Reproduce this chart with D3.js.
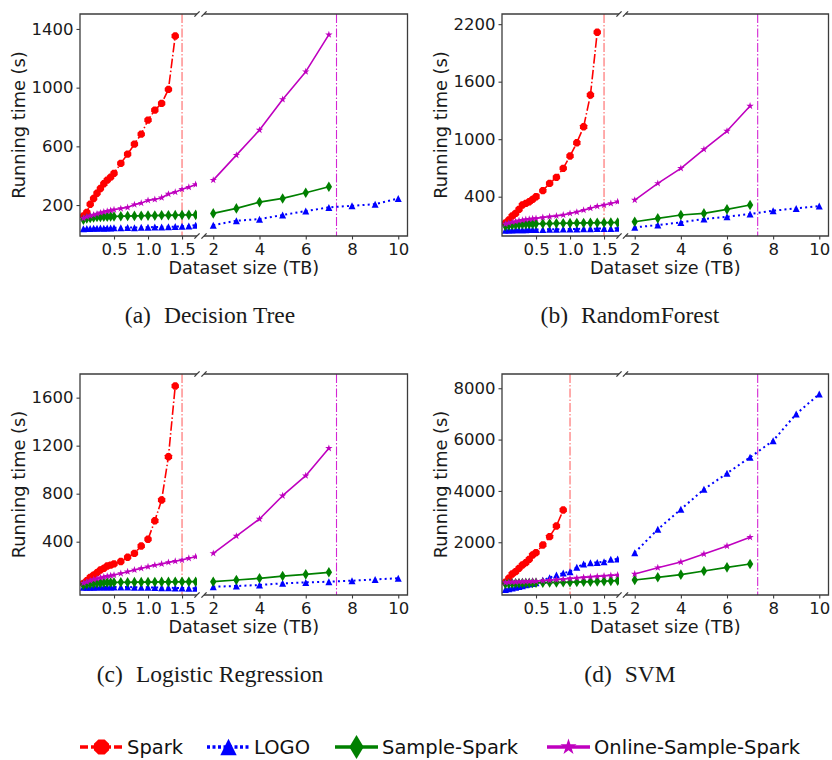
<!DOCTYPE html>
<html><head><meta charset="utf-8">
<script src="https://cdn.jsdelivr.net/npm/d3@7"></script>
<style>
body{margin:0;background:#fff}
svg{display:block}
text{font-family:"DejaVu Sans",sans-serif}
text.caption{font-family:"Liberation Serif",serif}
</style>
</head><body>
<svg id="chart" width="832" height="760"></svg>
<script>
// ---------------- DATA ----------------
const seriesNames = ["Spark", "LOGO", "Sample-Spark", "Online-Sample-Spark"];
const xLeft = [0.05,0.1,0.15,0.2,0.25,0.3,0.35,0.4,0.45,0.5,0.6,0.7,0.8,0.9,1.0,1.1,1.2,1.3,1.4,1.5,1.6,1.7];
const xSpark = [0.05,0.1,0.15,0.2,0.25,0.3,0.35,0.4,0.45,0.5,0.6,0.7,0.8,0.9,1.0,1.1,1.2,1.3,1.4];
const xSparkSvm = [0.05,0.1,0.15,0.2,0.25,0.3,0.35,0.4,0.45,0.5,0.6,0.7,0.8,0.9];
const xRight = [2,3,4,5,6,7];
const xRightLogo = [2,3,4,5,6,7,8,9,10];
const xLeftDomain = [0, 1.72];
const xRightDomain = [1.6, 10.4];
const xLeftTicks = [0.5, 1.0, 1.5];
const xRightTicks = [2, 4, 6, 8, 10];

// (a) Decision Tree
const dtSpark   = [125,150,205,245,280,313,345,370,390,416,484,547,615,683,779,847,893,988,1352];
const dtLogoL   = [38,40,40,42,41,43,42,44,43,45,46,47,46,48,49,50,51,52,53,55,58,63];
const dtSampleL = [100,108,112,115,118,118,120,120,122,122,124,125,126,127,128,128,130,130,131,132,133,133];
const dtOnlineL = [110,120,127,133,140,147,153,158,163,168,176,184,203,213,232,238,250,275,288,308,322,340];
const dtLogoR   = [63,93,104,132,159,184,195,206,245];
const dtSampleR = [143,177,220,245,284,325];
const dtOnlineR = [370,540,711,920,1109,1361];
const dtYDomain = [-11, 1502];
const dtYTicks  = [200, 600, 1000, 1400];

// (b) RandomForest
const rfSpark   = [125,157,198,226,268,313,330,348,372,400,463,539,602,696,824,963,1130,1461,2115];
const rfLogoL   = [50,52,52,54,55,55,56,57,57,58,59,60,61,62,63,64,65,66,67,68,69,70];
const rfSampleL = [95,100,105,108,110,112,114,115,116,117,119,120,122,123,124,125,126,127,128,129,130,131];
const rfOnlineL = [115,125,135,142,150,155,162,166,170,174,183,192,200,210,226,240,260,280,300,313,330,348];
const rfLogoR   = [80,104,132,167,191,219,254,278,303];
const rfSampleR = [139,174,209,226,268,313];
const rfOnlineR = [365,539,696,894,1085,1346];
const rfYDomain = [-10, 2306];
const rfYTicks  = [400, 1000, 1600, 2200];

// (c) Logistic Regression
const lrSpark   = [53,75,103,122,142,164,178,197,205,215,235,270,303,364,420,575,747,1108,1697];
const lrLogoL   = [20,20,21,21,22,22,22,23,23,23,22,22,21,21,20,18,17,16,15,14,13,12];
const lrSampleL = [40,45,50,53,55,57,58,60,60,61,62,62,63,63,64,64,65,65,66,66,67,67];
const lrOnlineL = [55,65,75,85,92,100,106,112,117,122,135,150,165,178,192,205,215,228,238,247,262,275];
const lrLogoR   = [25,31,39,53,61,67,75,86,95];
const lrSampleR = [67,81,95,114,128,145];
const lrOnlineR = [303,447,589,783,950,1178];
const lrYDomain = [-44, 1797];
const lrYTicks  = [400, 800, 1200, 1600];

// (d) SVM
const svmSpark   = [440,595,764,855,984,1114,1205,1335,1504,1595,1894,2218,2634,3257];
const svmLogoL   = [160,190,220,250,280,310,340,370,395,420,520,620,720,800,855,1023,1153,1205,1210,1244,1335,1348];
const svmSampleL = [380,390,395,400,405,410,412,415,418,420,425,430,435,440,445,450,460,465,470,480,495,505];
const svmOnlineL = [430,440,450,455,460,465,470,475,480,485,500,520,540,560,590,610,630,650,670,690,705,725];
const svmLogoR   = [1595,2504,3283,4062,4686,5309,5958,6997,7777];
const svmSampleR = [530,634,738,881,1023,1153];
const svmOnlineR = [764,1010,1231,1543,1854,2192];
const svmYDomain = [-55, 8555];
const svmYTicks  = [2000, 4000, 6000, 8000];

const captionTags = ["(a)", "(b)", "(c)", "(d)"];
const captionTitles = ["Decision Tree", "RandomForest", "Logistic Regression", "SVM"];
const sparkLimits = [1.5, 1.5, 1.5, 1.0];
const onlineLimits = [7.33, 7.33, 7.33, 7.33];

// ---------------- STYLE / LAYOUT ----------------
const styles = [
  {color:"#ff0000", dash:"9.6,2.4,1.5,2.4", width:1.6, marker:"octagon", r:4.0, lr:8.2, ldash:"8,3,3,3"},
  {color:"#0000ff", dash:"2,3.2", width:2.0, marker:"triangle", r:3.5, lr:8.2, ldash:"3,2.5"},
  {color:"#008000", dash:null, width:1.7, marker:"thinDiamond", r:5.3, lr:12, ldash:null},
  {color:"#bf00bf", dash:null, width:1.6, marker:"star", r:3.9, lr:8.5, ldash:null}
];
const cols = [{l0:80, l1:197, r0:204, r1:407.5, cx:210}, {l0:502, l1:619, r0:625.5, r1:828.5, cx:630}];
const rows = [{top:14, bottom:236}, {top:374, bottom:595}];
const spineColor = "#3c3c3c";

const panels = [
  {col:0,row:0, spark:dtSpark, sparkX:xSpark, left:[dtLogoL,dtSampleL,dtOnlineL], right:[dtLogoR,dtSampleR,dtOnlineR], yDomain:dtYDomain, yTicks:dtYTicks},
  {col:1,row:0, spark:rfSpark, sparkX:xSpark, left:[rfLogoL,rfSampleL,rfOnlineL], right:[rfLogoR,rfSampleR,rfOnlineR], yDomain:rfYDomain, yTicks:rfYTicks},
  {col:0,row:1, spark:lrSpark, sparkX:xSpark, left:[lrLogoL,lrSampleL,lrOnlineL], right:[lrLogoR,lrSampleR,lrOnlineR], yDomain:lrYDomain, yTicks:lrYTicks},
  {col:1,row:1, spark:svmSpark, sparkX:xSparkSvm, left:[svmLogoL,svmSampleL,svmOnlineL], right:[svmLogoR,svmSampleR,svmOnlineR], yDomain:svmYDomain, yTicks:svmYTicks}
];

function markerPath(type, r) {
  if (type === "octagon") {
    const pts = [];
    for (let k = 0; k < 8; k++) { const a = Math.PI/8 + k*Math.PI/4; pts.push([r*Math.cos(a), r*Math.sin(a)]); }
    return "M" + pts.map(p => p.join(",")).join("L") + "Z";
  }
  if (type === "triangle") return `M0,${-r}L${r},${r}L${-r},${r}Z`;
  if (type === "thinDiamond") return `M0,${-r}L${0.6*r},0L0,${r}L${-0.6*r},0Z`;
  if (type === "star") {
    const pts = [];
    for (let k = 0; k < 10; k++) { const rad = k % 2 ? r*0.382 : r; const a = -Math.PI/2 + k*Math.PI/5; pts.push([rad*Math.cos(a), rad*Math.sin(a)]); }
    return "M" + pts.map(p => p.join(",")).join("L") + "Z";
  }
}

const svg = d3.select("#chart");
const defs = svg.append("defs");

function drawSeries(g, xs, ys, x, y, st) {
  const pts = xs.map((v, i) => [v, ys[i]]);
  const line = d3.line().x(d => x(d[0])).y(d => y(d[1]));
  g.append("path").attr("d", line(pts)).attr("fill", "none")
    .attr("stroke", st.color).attr("stroke-width", st.width)
    .attr("stroke-dasharray", st.dash).attr("stroke-linejoin", "round");
  g.selectAll(null).data(pts).enter().append("path")
    .attr("d", markerPath(st.marker, st.r))
    .attr("transform", d => `translate(${x(d[0])},${y(d[1])})`)
    .attr("fill", st.color);
}

panels.forEach((p, i) => {
  const c = cols[p.col], r = rows[p.row];
  const xL = d3.scaleLinear().domain(xLeftDomain).range([c.l0, c.l1]);
  const xR = d3.scaleLinear().domain(xRightDomain).range([c.r0, c.r1]);
  const y = d3.scaleLinear().domain(p.yDomain).range([r.bottom, r.top]);

  defs.append("clipPath").attr("id", "cl" + i).append("rect")
    .attr("x", c.l0).attr("y", r.top).attr("width", c.l1 - c.l0).attr("height", r.bottom - r.top);
  defs.append("clipPath").attr("id", "cr" + i).append("rect")
    .attr("x", c.r0).attr("y", r.top).attr("width", c.r1 - c.r0).attr("height", r.bottom - r.top);

  const gL = svg.append("g").attr("clip-path", `url(#cl${i})`);
  const gR = svg.append("g").attr("clip-path", `url(#cr${i})`);

  // limit lines
  gL.append("line").attr("x1", xL(sparkLimits[i])).attr("x2", xL(sparkLimits[i]))
    .attr("y1", r.top).attr("y2", r.bottom).attr("stroke", "#ff0000").attr("stroke-opacity", 0.55)
    .attr("stroke-width", 1.2).attr("stroke-dasharray", "9,2,1.5,2");
  gR.append("line").attr("x1", xR(onlineLimits[i])).attr("x2", xR(onlineLimits[i]))
    .attr("y1", r.top).attr("y2", r.bottom).attr("stroke", "#cc00cc").attr("stroke-opacity", 0.85)
    .attr("stroke-width", 1.1).attr("stroke-dasharray", "9,2,1.5,2");

  // series
  drawSeries(gL, p.sparkX, p.spark, xL, y, styles[0]);
  drawSeries(gL, xLeft, p.left[0], xL, y, styles[1]);
  drawSeries(gL, xLeft, p.left[1], xL, y, styles[2]);
  drawSeries(gL, xLeft, p.left[2], xL, y, styles[3]);
  drawSeries(gR, xRightLogo, p.right[0], xR, y, styles[1]);
  drawSeries(gR, xRight, p.right[1], xR, y, styles[2]);
  drawSeries(gR, xRight, p.right[2], xR, y, styles[3]);

  // axes
  const ya = svg.append("g").attr("transform", `translate(${c.l0},0)`)
    .call(d3.axisLeft(y).tickValues(p.yTicks).tickSize(3.5).tickPadding(3).tickFormat(d3.format("d")));
  const xa1 = svg.append("g").attr("transform", `translate(0,${r.bottom})`)
    .call(d3.axisBottom(xL).tickValues(xLeftTicks).tickSize(3.5).tickPadding(3.5).tickFormat(d3.format(".1f")));
  const xa2 = svg.append("g").attr("transform", `translate(0,${r.bottom})`)
    .call(d3.axisBottom(xR).tickValues(xRightTicks).tickSize(3.5).tickPadding(3.5).tickFormat(d3.format("d")));
  [ya, xa1, xa2].forEach(a => {
    a.select(".domain").remove();
    a.selectAll(".tick line").attr("stroke", spineColor).attr("stroke-width", 1.1);
    a.selectAll(".tick text").attr("font-size", 16.5).attr("fill", "#1a1a1a");
  });

  // spines
  const sp = svg.append("g").attr("fill", "none").attr("stroke", spineColor).attr("stroke-width", 1.3);
  sp.append("path").attr("d", `M${c.l1},${r.top}H${c.l0}V${r.bottom}H${c.l1}`);
  sp.append("path").attr("d", `M${c.r0},${r.top}H${c.r1}V${r.bottom}H${c.r0}`);
  // break marks
  const d = 2.6;
  [[c.l1, r.top], [c.l1, r.bottom], [c.r0, r.top], [c.r0, r.bottom]].forEach(([bx, by]) => {
    sp.append("line").attr("x1", bx - d).attr("y1", by + d).attr("x2", bx + d).attr("y2", by - d);
  });

  // labels
  svg.append("text")
    .attr("transform", `translate(${c.l0 - 61.5},${(r.top + r.bottom) / 2}) rotate(-90)`)
    .attr("text-anchor", "middle").attr("dominant-baseline", "central")
    .attr("font-size", 17.8).attr("fill", "#1a1a1a").text("Running time (s)");
  svg.append("text").attr("x", (c.l0 + c.r1) / 2).attr("y", r.bottom + 38)
    .attr("text-anchor", "middle").attr("font-size", 17.6).attr("fill", "#1a1a1a").text("Dataset size (TB)");

  // caption
  const cap = svg.append("text").attr("class", "caption").attr("y", r.bottom + 87).attr("x", c.cx)
    .attr("text-anchor", "middle").attr("font-size", 23.5).attr("fill", "#1a1a1a");
  cap.append("tspan").text(captionTags[i]);
  cap.append("tspan").attr("dx", 13).text(captionTitles[i]);
});

// legend
const legendX = [80, 207, 335, 547];
const lg = svg.append("g");
seriesNames.forEach((name, i) => {
  const st = styles[i];
  const x0 = legendX[i], ly = 747;
  lg.append("line").attr("x1", x0).attr("x2", x0 + 43).attr("y1", ly).attr("y2", ly)
    .attr("stroke", st.color).attr("stroke-width", 3.4).attr("stroke-dasharray", st.ldash);
  lg.append("path").attr("d", markerPath(st.marker, st.lr))
    .attr("transform", `translate(${x0 + 21.5},${ly})`).attr("fill", st.color);
  lg.append("text").attr("x", x0 + 47).attr("y", 754).attr("font-size", 19.5).attr("fill", "#111").text(name);
});
</script>
</body></html>
